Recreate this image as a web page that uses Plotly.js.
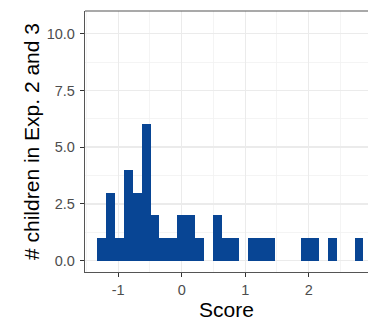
<!DOCTYPE html>
<html>
<head>
<meta charset="utf-8">
<script src="https://cdn.plot.ly/plotly-3.0.1.min.js"></script>
<style>html,body{margin:0;padding:0;background:#fff;}#chart{width:368px;height:325px;}</style>
</head>
<body>
<div id="chart"></div>
<script>
// Histogram bin centres (Score) and counts
const binCenters = [-1.259, -1.120, -0.980, -0.840, -0.701, -0.561, -0.421, -0.281, -0.142, -0.002,
                    0.138, 0.277, 0.417, 0.557, 0.696, 0.836, 0.976, 1.116, 1.255, 1.395,
                    1.535, 1.674, 1.814, 1.954, 2.093, 2.233, 2.373, 2.512, 2.652, 2.792];
const counts = [1, 3, 1, 4, 3, 6, 2, 1, 1, 2,
                2, 1, 0, 2, 1, 1, 0, 1, 1, 1,
                0, 0, 0, 1, 1, 0, 1, 0, 0, 1];
const binWidth = 0.1397;

const xTickVals = [-1, 0, 1, 2];
const xTickText = ["-1", "0", "1", "2"];
const yTickVals = [0, 2.5, 5, 7.5, 10];
const yTickText = ["0.0", "2.5", "5.0", "7.5", "10.0"];
const xMinorVals = [-1.5, -0.5, 0.5, 1.5, 2.5];
const yMinorVals = [1.25, 3.75, 6.25, 8.75];

const fontFam = "Liberation Sans, Arial, sans-serif";

const trace = {
  type: "bar",
  x: binCenters,
  y: counts,
  width: binCenters.map(() => binWidth),
  marker: {color: "#084594", line: {width: 0}},
  hoverinfo: "x+y"
};

const layout = {
  width: 368, height: 325,
  margin: {l: 85, r: 0, t: 11, b: 53, pad: 0},
  paper_bgcolor: "#ffffff",
  plot_bgcolor: "#ffffff",
  showlegend: false,
  bargap: 0,
  font: {family: fontFam},
  xaxis: {
    range: [-1.523, 2.934],
    tickmode: "array", tickvals: xTickVals, ticktext: xTickText,
    ticks: "outside", ticklen: 4, tickwidth: 1.1, tickcolor: "#333333",
    tickfont: {size: 14.5, color: "#4D4D4D", family: fontFam},
    showgrid: true, gridcolor: "#EBEBEB", gridwidth: 1.4,
    minor: {tickmode: "array", tickvals: xMinorVals, showgrid: true, gridcolor: "#F1F1F1", gridwidth: 0.8, ticks: ""},
    zeroline: false,
    showline: true, linecolor: "#555555", linewidth: 1.2,
    automargin: false,
    title: {text: "Score", font: {size: 21, color: "#000000", family: fontFam}, standoff: 4}
  },
  yaxis: {
    range: [-0.5, 11.0],
    tickmode: "array", tickvals: yTickVals, ticktext: yTickText,
    ticks: "outside", ticklen: 4, tickwidth: 1.1, tickcolor: "#333333",
    ticklabelstandoff: 2,
    tickfont: {size: 14.5, color: "#4D4D4D", family: fontFam},
    showgrid: true, gridcolor: "#EBEBEB", gridwidth: 1.4,
    minor: {tickmode: "array", tickvals: yMinorVals, showgrid: true, gridcolor: "#F1F1F1", gridwidth: 0.8, ticks: ""},
    zeroline: false,
    showline: true, linecolor: "#555555", linewidth: 1.2,
    automargin: false,
    title: {text: "# children in Exp. 2 and 3", font: {size: 21, color: "#000000", family: fontFam}, standoff: 1}
  },
  shapes: [
    {type: "line", xref: "paper", yref: "paper", x0: 0, x1: 1, y0: 1, y1: 1,
     line: {color: "#555555", width: 1.2}}
  ]
};

Plotly.newPlot("chart", [trace], layout, {displayModeBar: false, staticPlot: true});
</script>
</body>
</html>
